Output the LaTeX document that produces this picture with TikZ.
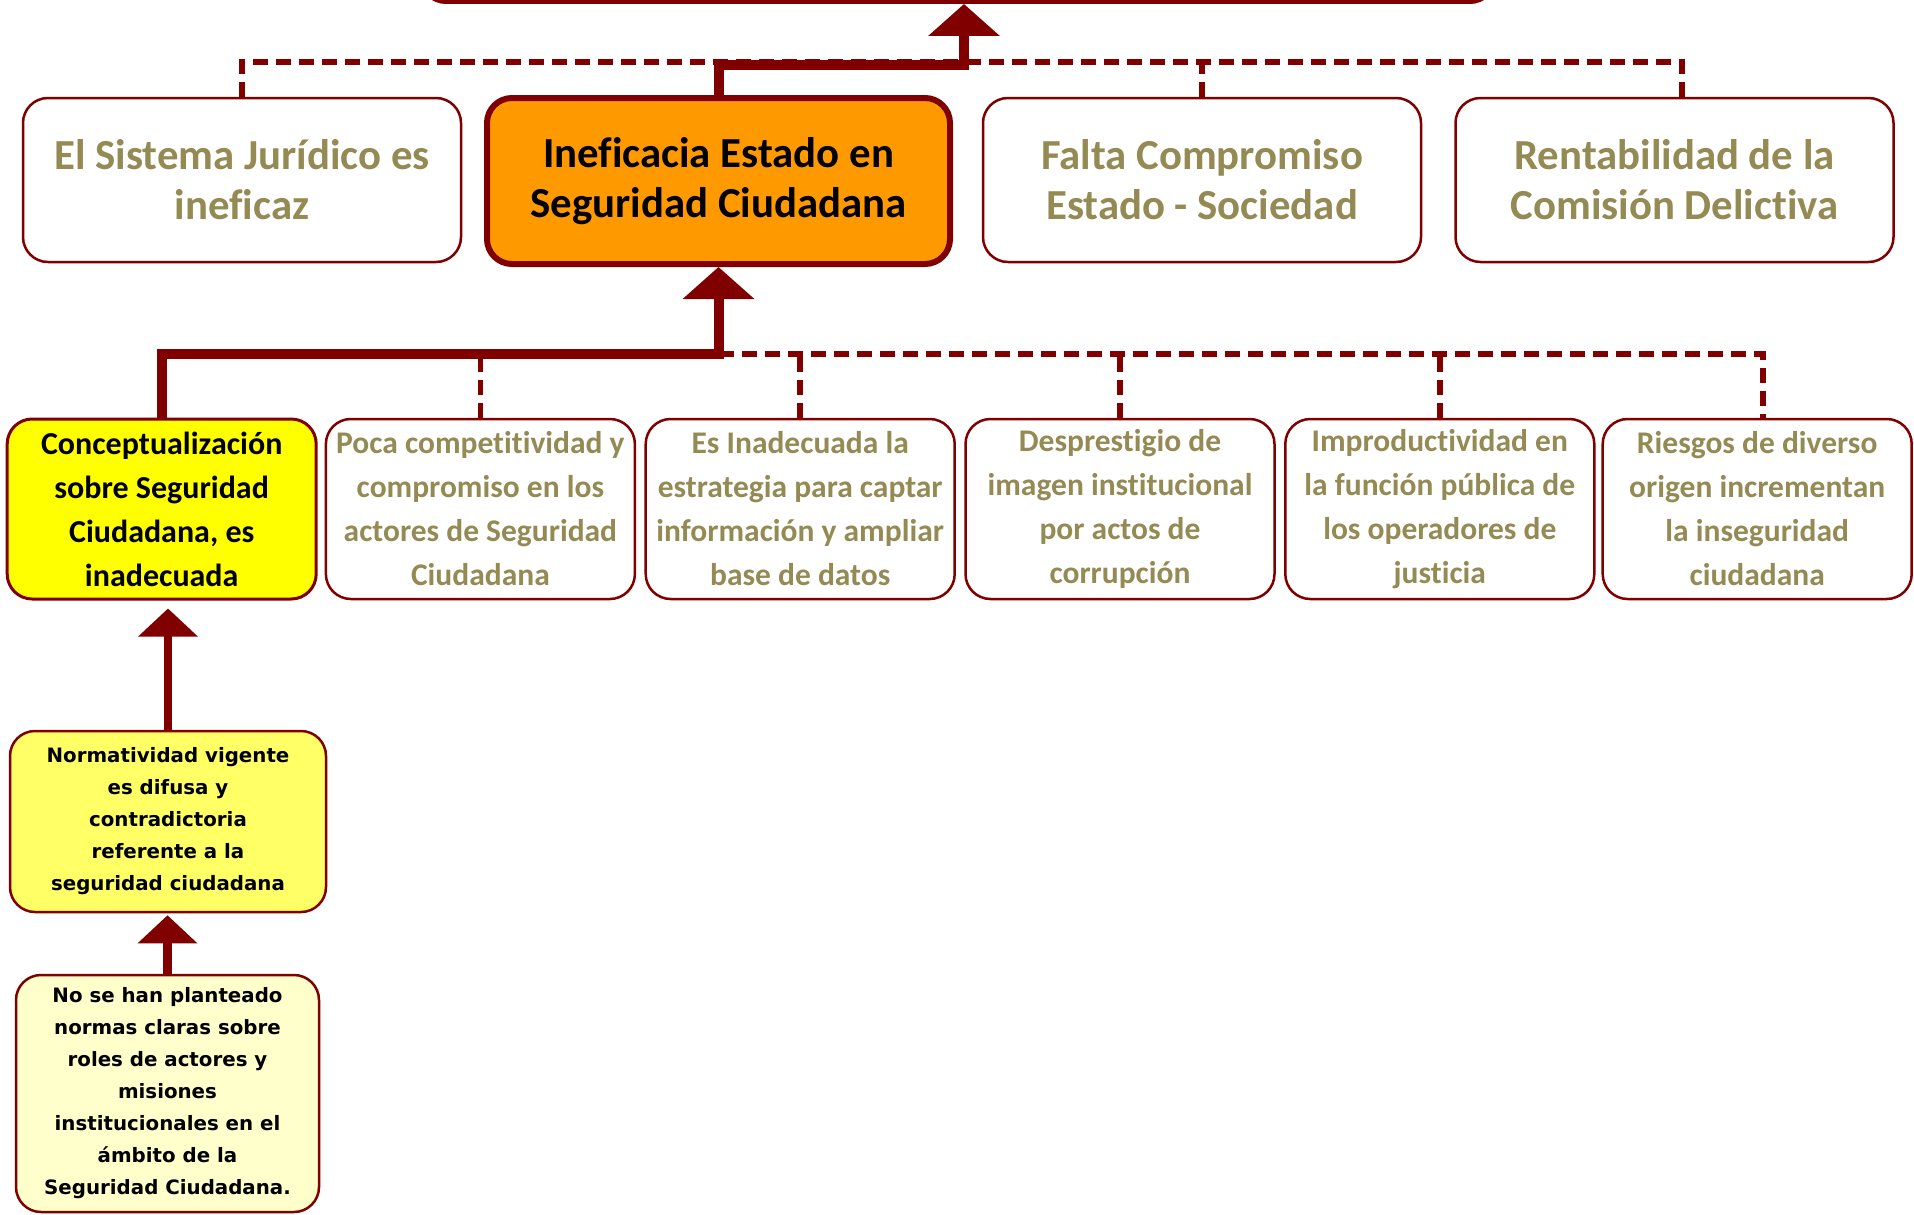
\documentclass[tikz,border=0pt]{standalone}
\usepackage{fontspec}
\setmainfont{Carlito}[Ligatures=NoCommon]
\newfontfamily\verd{DejaVu Sans}
\usetikzlibrary{arrows.meta}
\definecolor{mar}{HTML}{800000}
\definecolor{oli}{HTML}{948A54}
\definecolor{ora}{HTML}{FF9900}
\definecolor{yel}{HTML}{FFFF00}
\definecolor{yelA}{HTML}{FFFF66}
\definecolor{yelB}{HTML}{FFFFCC}
\begin{document}
\begin{tikzpicture}[x=1pt,y=-1pt,
  cbox/.style={draw=mar, line width=2.5pt, rounded corners=25pt, fill=white, inner sep=0pt, align=center, anchor=center},
  toprow/.style={cbox, minimum width=438pt, minimum height=164pt, font=\fontsize{42.8}{50}\selectfont\bfseries, text=oli},
  midrow/.style={cbox, minimum width=309pt, minimum height=180pt, font=\fontsize{31.5}{44}\selectfont\bfseries, text=oli},
  lowbox/.style={cbox, font=\verd\bfseries\fontsize{19.8}{32}\selectfont, text=black},
  thk/.style={draw=mar, line width=10pt},
  thin/.style={draw=mar, line width=8.5pt},
  dashline/.style={draw=mar, line width=5.5pt, dash pattern=on 15pt off 8pt},
  bigtip/.style={-{Triangle[width=70pt,length=32pt]}},
  smalltip/.style={-{Triangle[width=58pt,length=28pt]}}
]
\useasboundingbox (0,0) rectangle (1914,1215);
\clip (0,0) rectangle (1914,1215);
\fill[white] (0,0) rectangle (1914,1215);

% top (cut off) box
\node[cbox, line width=4pt, minimum width=1074pt, minimum height=124pt] (top) at (958,-60) {};

% top row
\node[toprow] (b1) at (242,180) {El Sistema Jurídico es\\ineficaz};
\node[toprow, fill=ora, text=black, line width=6pt, minimum width=463pt, minimum height=166pt] (b2) at (718.5,181) {Ineficacia Estado en\\Seguridad Ciudadana};
\node[toprow] (b3) at (1202,180) {Falta Compromiso\\Estado - Sociedad};
\node[toprow] (b4) at (1674.5,180) {Rentabilidad de la\\Comisión Delictiva};

% middle row
\node[midrow, fill=yel, text=black, line width=3pt, font=\fontsize{32}{44}\selectfont\bfseries] (y1) at (161.7,509) {Conceptualización\\sobre Seguridad\\Ciudadana, es\\inadecuada};
\node[midrow] (c1) at (480.4,509) {Poca competitividad y\\compromiso en los\\actores de Seguridad\\Ciudadana};
\node[midrow] (c2) at (800.2,509) {Es Inadecuada la\\estrategia para captar\\información y ampliar\\base de datos};
\node[midrow] (c3) at (1120,509) {Desprestigio de\\imagen institucional\\por actos de\\corrupción};
\node[midrow] (c4) at (1439.8,509) {Improductividad en\\la función pública de\\los operadores de\\justicia};
\node[midrow] (c5) at (1757.2,509) {Riesgos de diverso\\origen incrementan\\la inseguridad\\ciudadana};

% lower boxes
\node[lowbox, fill=yelA, minimum width=316pt, minimum height=181pt] (n1) at (168,821.5) {Normatividad vigente\\es difusa y\\contradictoria\\referente a la\\seguridad ciudadana};
\node[lowbox, fill=yelB, minimum width=303pt, minimum height=237pt] (n2) at (167.5,1093.5) {No se han planteado\\normas claras sobre\\roles de actores y\\misiones\\institucionales en el\\ámbito de la\\Seguridad Ciudadana.};

% top connectors
\coordinate (r4) at (1682,62);
\draw[dashline] (b1.north) -- (b1.north |- r4) -- (r4) -- (r4 |- b4.north);
\draw[dashline] (b3.north) -- (b3.north |- r4);
\coordinate (topin) at ([xshift=6pt]top.south);
\draw[thk, bigtip] (b2.north) -- (b2.north |- 0,65.5) -- (topin |- 0,65.5) -- (topin);

% middle connectors
\coordinate (r5) at (1763,354);
\draw[dashline] (b2.south |- r5) -- (r5) -- (r5 |- c5.north);
\foreach \n in {c1,c2,c3,c4} \draw[dashline] (\n.north) -- (\n.north |- r5);
\draw[thk, bigtip] (y1.north) -- (y1.north |- r5) -- (b2.south |- r5) -- (b2.south);

% lower connectors
\draw[thin, smalltip, shorten >=8pt] (n1.north) -- (n1.north |- y1.south);
\draw[thin, smalltip, shorten >=2pt] (n2.north) -- (n2.north |- n1.south);
\end{tikzpicture}
\end{document}
